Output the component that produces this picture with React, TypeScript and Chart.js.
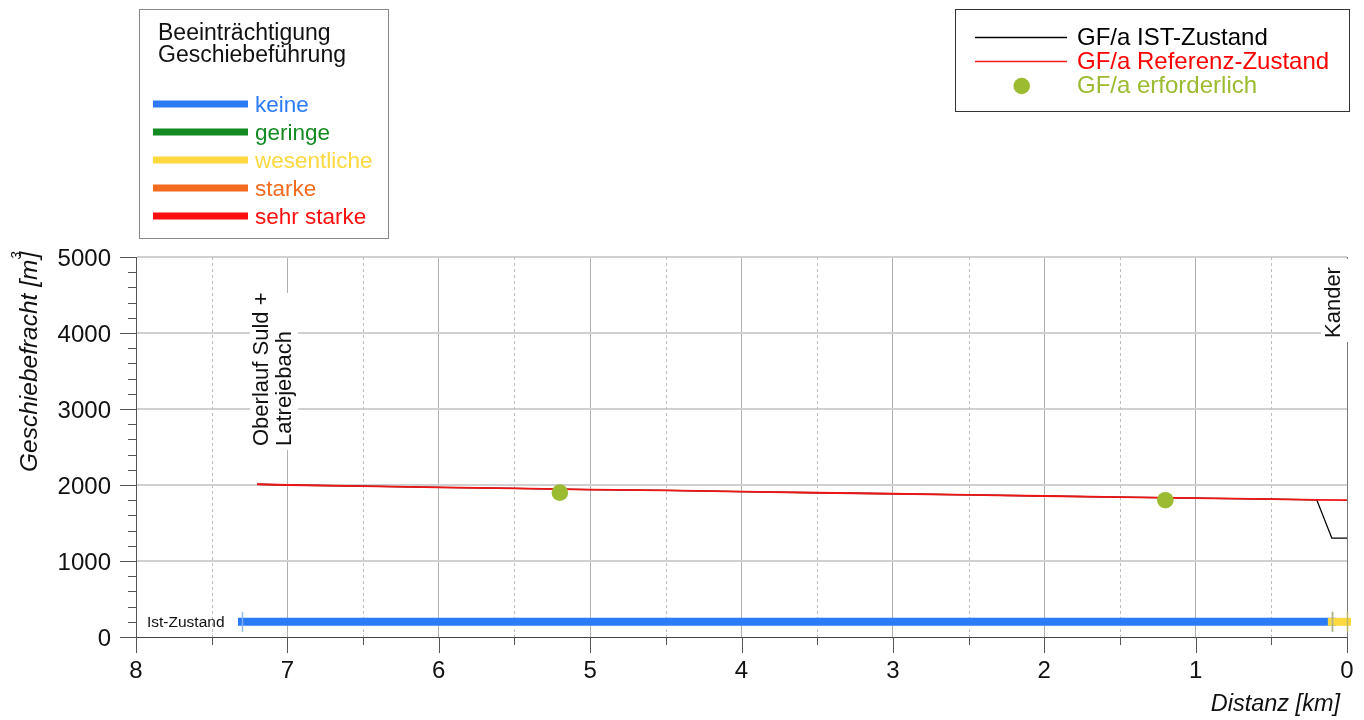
import { useEffect, useRef } from 'react';
import { Chart, registerables } from 'chart.js';

Chart.register(...registerables);

// Distance from the Kander confluence [km] and annual bed load [m3]
const refKm = [7.2, 7, 6.5, 6, 5.5, 5, 4.5, 4, 3.5, 3, 2.5, 2, 1.5, 1, 0.5, 0.2, 0];
const refLoad = [2010, 2000, 1985, 1970, 1955, 1940, 1928, 1912, 1898, 1885, 1870, 1855, 1840, 1828, 1815, 1805, 1800];

const istKm = [7.2, 7, 6.5, 6, 5.5, 5, 4.5, 4, 3.5, 3, 2.5, 2, 1.5, 1, 0.5, 0.2, 0.1, 0];
const istLoad = [2010, 2000, 1985, 1970, 1955, 1940, 1928, 1912, 1898, 1885, 1870, 1855, 1840, 1828, 1815, 1805, 1300, 1300];

const requiredKm = [5.2, 1.2];
const requiredLoad = [1900, 1800];

// Impairment classes of bed-load transport
const impairLabels = ['keine', 'geringe', 'wesentliche', 'starke', 'sehr starke'];
const impairColors = ['#2b7bf7', '#138a22', '#fdd83f', '#f26b1e', '#fe0e0e'];

// Current-state impairment along the reach
const segStart = [7.3, 0.1];
const segEnd = [0.1, 0];
const segClass = [0, 2];
const segMarker = ['rgba(140,178,245,0.95)', 'rgba(190,178,100,0.9)'];
const segLevel = 200;

// Axis setup
const xMin = 0;
const xMax = 8;
const xStep = 0.5;
const yMin = 0;
const yMax = 5000;
const yStep = 1000;
const yMinorStep = 200;

// Place labels along the reach
const placeNames = [['Oberlauf Suld +', 'Latrejebach'], ['Kander']];
const placeKm = [7.2, 0];

const FONT = '"Liberation Sans", Arial, Helvetica, sans-serif';

function line(ctx: CanvasRenderingContext2D, x1: number, y1: number, x2: number, y2: number) {
  ctx.beginPath();
  ctx.moveTo(x1, y1);
  ctx.lineTo(x2, y2);
  ctx.stroke();
}

function text(
  ctx: CanvasRenderingContext2D,
  s: string,
  x: number,
  y: number,
  size: number,
  color: string,
  align: CanvasTextAlign = 'left',
  italic = false
) {
  ctx.font = `${italic ? 'italic ' : ''}${size}px ${FONT}`;
  ctx.fillStyle = color;
  ctx.textAlign = align;
  ctx.textBaseline = 'alphabetic';
  ctx.fillText(s, x, y);
}

function upText(ctx: CanvasRenderingContext2D, s: string, x: number, y: number, size: number, color: string) {
  ctx.save();
  ctx.translate(x, y);
  ctx.rotate(-Math.PI / 2);
  text(ctx, s, 0, 0, size, color);
  ctx.restore();
}

const decorPlugin = {
  id: 'decor',
  beforeDatasetsDraw(chart: any) {
    const { ctx, chartArea: a, scales } = chart;
    const xs = scales.x;
    const ys = scales.y;
    ctx.save();

    // dashed half-kilometre grid
    ctx.strokeStyle = '#bdbdbd';
    ctx.lineWidth = 1;
    ctx.setLineDash([3, 3]);
    for (const t of xs.ticks) {
      if (Number.isInteger(t.value)) continue;
      const px = Math.round(xs.getPixelForValue(t.value)) + 0.5;
      line(ctx, px, a.top, px, a.bottom);
    }
    ctx.setLineDash([]);

    // right frame
    ctx.strokeStyle = '#7a7a7a';
    const rx = Math.round(a.right) + 0.5;
    line(ctx, rx, a.top, rx, a.bottom);

    // tick marks
    ctx.strokeStyle = '#555';
    for (const t of xs.ticks) {
      const px = Math.round(xs.getPixelForValue(t.value)) + 0.5;
      const len = Number.isInteger(t.value) ? 16 : 8;
      line(ctx, px, a.bottom, px, a.bottom + len);
    }
    for (let v = yMin; v <= yMax; v += yMinorStep) {
      const py = Math.round(ys.getPixelForValue(v)) + 0.5;
      const len = v % yStep === 0 ? 16 : 8;
      line(ctx, a.left - len, py, a.left, py);
    }

    // tick labels
    for (const t of xs.ticks) {
      if (!Number.isInteger(t.value)) continue;
      text(ctx, String(t.value), xs.getPixelForValue(t.value), 678, 24, '#111', 'center');
    }
    for (const t of ys.ticks) {
      text(ctx, String(t.value), 111, ys.getPixelForValue(t.value) + 9, 24, '#111', 'right');
    }

    // axis titles
    text(ctx, 'Distanz [km]', 1340, 711, 23.5, '#111', 'right', true);
    ctx.save();
    ctx.translate(37, 472);
    ctx.rotate(-Math.PI / 2);
    ctx.font = `italic 24.5px ${FONT}`;
    const main = 'Geschiebefracht [m';
    const w = ctx.measureText(main).width;
    text(ctx, main, 0, 0, 24.5, '#111', 'left', true);
    text(ctx, '3', w, -16, 14, '#111', 'left', true);
    text(ctx, ']', w + 1, 0, 24.5, '#111', 'left', true);
    ctx.restore();

    // place labels on white
    const ox = xs.getPixelForValue(placeKm[0]);
    ctx.fillStyle = '#fff';
    ctx.fillRect(ox - 7, 293, 48, 157);
    upText(ctx, placeNames[0][0], ox + 11, 446, 22, '#111');
    upText(ctx, placeNames[0][1], ox + 34, 446, 22, '#111');

    const kx = xs.getPixelForValue(placeKm[1]);
    ctx.fillStyle = '#fff';
    ctx.fillRect(kx - 26, a.top + 2, 32, 83);
    upText(ctx, placeNames[1][0], kx - 7, 338, 22, '#111');

    // label of the impairment band
    text(ctx, 'Ist-Zustand', 147, ys.getPixelForValue(segLevel) + 5.5, 15.5, '#111');

    ctx.restore();
  },
  afterDatasetsDraw(chart: any) {
    const { ctx, scales } = chart;
    const xs = scales.x;
    const ys = scales.y;
    ctx.save();
    ctx.lineWidth = 1.5;
    const py = ys.getPixelForValue(segLevel);
    segStart.forEach((s, i) => {
      ctx.strokeStyle = segMarker[i];
      for (const km of [s, segEnd[i]]) {
        const px = Math.round(xs.getPixelForValue(km)) + 0.5;
        line(ctx, px, py - 10, px, py + 10);
      }
    });
    ctx.restore();
  },
  afterDraw(chart: any) {
    const { ctx } = chart;
    ctx.save();

    // impairment legend
    ctx.strokeStyle = '#8a8a8a';
    ctx.lineWidth = 1;
    ctx.strokeRect(139.5, 9.5, 249, 229);
    text(ctx, 'Beeinträchtigung', 158, 39.5, 23, '#111');
    text(ctx, 'Geschiebeführung', 158, 62, 23, '#111');
    impairLabels.forEach((lab, i) => {
      const y = 104 + 28 * i;
      ctx.fillStyle = impairColors[i];
      ctx.fillRect(153, y - 3.5, 95, 7);
      text(ctx, lab, 255, y + 7.5, 22.5, impairColors[i]);
    });

    // series legend
    ctx.strokeStyle = '#333';
    ctx.strokeRect(955.5, 9.5, 394, 102);
    ctx.lineWidth = 1.3;
    ctx.strokeStyle = '#000';
    line(ctx, 975, 37.5, 1067, 37.5);
    ctx.strokeStyle = '#ff1a1a';
    line(ctx, 975, 61.5, 1067, 61.5);
    ctx.fillStyle = '#9bbb31';
    ctx.beginPath();
    ctx.arc(1021.7, 86, 8.3, 0, Math.PI * 2);
    ctx.fill();
    text(ctx, 'GF/a IST-Zustand', 1077, 44.5, 24, '#000');
    text(ctx, 'GF/a Referenz-Zustand', 1077, 68.5, 24, '#ff0000');
    text(ctx, 'GF/a erforderlich', 1077, 92.5, 24, '#9bbb31');

    ctx.restore();
  },
};

export default function App() {
  const ref = useRef<HTMLCanvasElement>(null);

  useEffect(() => {
    const canvas = ref.current;
    if (!canvas) return;

    const segDatasets = segStart.map((s, i) => ({
      type: 'line' as const,
      label: impairLabels[segClass[i]],
      data: [
        { x: s, y: segLevel },
        { x: segEnd[i], y: segLevel },
      ],
      borderColor: impairColors[segClass[i]],
      borderWidth: 8,
      borderCapStyle: 'square' as const,
      pointRadius: 0,
      clip: false as any,
      order: 10 - i,
    }));

    const chart = new Chart(canvas, {
      type: 'line',
      data: {
        datasets: [
          {
            label: 'GF/a Referenz-Zustand',
            data: refKm.map((x, i) => ({ x, y: refLoad[i] })),
            borderColor: '#f01515',
            borderWidth: 1.8,
            pointRadius: 0,
            tension: 0,
            order: 1,
          },
          {
            label: 'GF/a IST-Zustand',
            data: istKm.map((x, i) => ({ x, y: istLoad[i] })),
            borderColor: '#000',
            borderWidth: 1.3,
            pointRadius: 0,
            tension: 0,
            order: 2,
          },
          {
            type: 'scatter',
            label: 'GF/a erforderlich',
            data: requiredKm.map((x, i) => ({ x, y: requiredLoad[i] })),
            backgroundColor: '#9bbb31',
            borderWidth: 0,
            pointRadius: 8.3,
            order: 0,
          } as any,
          ...segDatasets,
        ],
      },
      options: {
        responsive: false,
        animation: false,
        events: [],
        layout: { padding: { top: 257, right: 17, left: 0, bottom: 0 } },
        plugins: {
          legend: { display: false },
          tooltip: { enabled: false },
        },
        scales: {
          x: {
            type: 'linear',
            min: xMin,
            max: xMax,
            reverse: true,
            ticks: { display: false, stepSize: xStep },
            grid: {
              drawTicks: false,
              lineWidth: 1,
              color: (c: any) => {
                const v = c.tick ? c.tick.value : -1;
                return Number.isInteger(v) && v > xMin && v < xMax ? '#b0b0b0' : 'rgba(0,0,0,0)';
              },
            },
            border: { display: true, color: '#444', width: 1 },
            afterFit: (s: any) => {
              s.height = 83;
            },
          },
          y: {
            type: 'linear',
            min: yMin,
            max: yMax,
            ticks: { display: false, stepSize: yStep },
            grid: {
              drawTicks: false,
              lineWidth: 2,
              color: (c: any) => (c.tick && c.tick.value > yMin ? '#d0d0d0' : 'rgba(0,0,0,0)'),
            },
            border: { display: true, color: '#555', width: 1 },
            afterFit: (s: any) => {
              s.width = 136;
            },
          },
        },
      } as any,
      plugins: [decorPlugin],
    });

    return () => chart.destroy();
  }, []);

  return (
    <div style={{ position: 'absolute', left: 0, top: 0, width: 1364, height: 720, background: '#fff' }}>
      <canvas ref={ref} width={1364} height={720} style={{ display: 'block' }} />
    </div>
  );
}
